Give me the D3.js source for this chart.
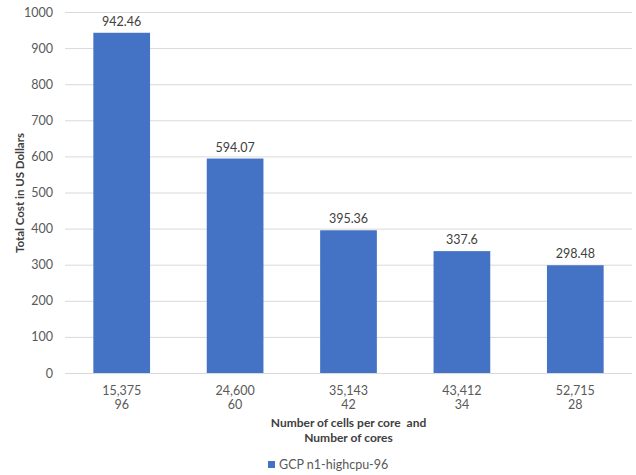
<!DOCTYPE html>
<html><head><meta charset="utf-8">
<script src="https://cdn.jsdelivr.net/npm/d3@7"></script>
<style>body{margin:0;background:#fff;font-family:Lato,"Open Sans",sans-serif;} text{white-space:pre;}</style>
</head><body>
<svg id="c" width="636" height="475"></svg>
<script>
const cellsPerCore = ["15,375","24,600","35,143","43,412","52,715"];
const cores = ["96","60","42","34","28"];
const costs = [942.46, 594.07, 395.36, 337.6, 298.48];
const costLabels = ["942.46","594.07","395.36","337.6","298.48"];
const yTicks = [0,100,200,300,400,500,600,700,800,900,1000];
const seriesName = "GCP n1-highcpu-96";

const svg = d3.select("#c");
const pL = 65, pR = 632, pT = 12, pB = 373;
const x = d3.scaleBand().domain(d3.range(costs.length)).range([pL, pR]).paddingInner(0.5).paddingOuter(0.25);
const y = d3.scaleLinear().domain([0,1000]).range([pB, pT]);

const grid = svg.append("g").attr("transform", `translate(${pL},0)`)
  .call(d3.axisLeft(y).tickValues(yTicks).tickSize(-(pR-pL)).tickFormat(d=>d).tickPadding(12));
grid.select(".domain").remove();
grid.selectAll(".tick line").attr("stroke","#d9d9d9").attr("stroke-width",1);
grid.selectAll(".tick text").attr("fill","#595959").attr("font-size","12.5px").attr("font-family","Lato, sans-serif");

svg.append("g").selectAll("rect").data(costs).join("rect")
  .attr("x",(d,i)=>x(i)).attr("width",x.bandwidth())
  .attr("y",d=>y(d)).attr("height",d=>pB-y(d))
  .attr("fill","#4472C4");

svg.append("g").selectAll("text").data(costs).join("text")
  .attr("x",(d,i)=>x(i)+x.bandwidth()/2).attr("y",d=>y(d)-7)
  .attr("text-anchor","middle").attr("fill","#404040").attr("font-size","12.5px")
  .text((d,i)=>costLabels[i]);

const xa = svg.append("g").selectAll("g").data(cellsPerCore).join("g");
xa.append("text").attr("x",(d,i)=>x(i)+x.bandwidth()/2).attr("y",395)
  .attr("text-anchor","middle").attr("fill","#595959").attr("font-size","12.5px").text(d=>d);
xa.append("text").attr("x",(d,i)=>x(i)+x.bandwidth()/2).attr("y",409)
  .attr("text-anchor","middle").attr("fill","#595959").attr("font-size","12.5px").text((d,i)=>cores[i]);

const cx = (pL+pR)/2;
svg.append("text").attr("x",cx).attr("y",427).attr("text-anchor","middle")
  .attr("fill","#404040").attr("font-weight","bold").attr("font-size","12px").text("Number of cells per core  and");
svg.append("text").attr("x",cx).attr("y",442).attr("text-anchor","middle")
  .attr("fill","#404040").attr("font-weight","bold").attr("font-size","12px").text("Number of cores");

svg.append("text").attr("transform","translate(24,193) rotate(-90)").attr("text-anchor","middle")
  .attr("fill","#404040").attr("font-weight","bold").attr("font-size","11.5px").text("Total Cost in US Dollars");

svg.append("rect").attr("x",268).attr("y",461).attr("width",7).attr("height",7).attr("fill","#4472C4");
svg.append("text").attr("x",279).attr("y",469).attr("fill","#595959").attr("font-size","12.5px").text(seriesName);
</script>
</body></html>
